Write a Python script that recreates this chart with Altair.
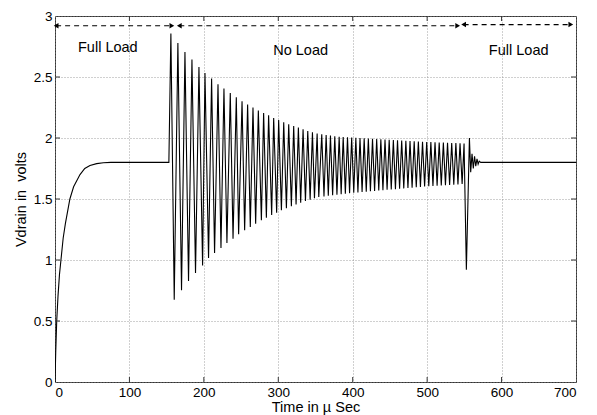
import altair as alt
import pandas as pd

# ---- data ----
# start-up transient (full load)
rise_t = [0, 1, 2.3, 4, 6, 8, 11, 14, 20, 25, 33.6, 40, 47, 56, 65, 75, 153]
rise_v = [0, 0.25, 0.5, 0.7, 0.88, 1.0, 1.18, 1.3, 1.5, 1.6, 1.7, 1.75, 1.775, 1.79, 1.797, 1.8, 1.8]

# no-load oscillation: peaks and troughs
peak_t = [155.7, 165.1, 174.6, 184.0, 193.4, 201.5, 210.4, 219.0, 227.0, 235.5, 243.6, 251.3,
          258.8, 266.0, 273.2, 280.3, 287.0, 293.8, 300.5, 307.3, 314.0, 320.7, 327.0, 333.3,
          339.6, 345.9, 352.2, 358.4, 364.3, 370.1, 375.9, 381.8, 387.2, 393.0, 398.6, 404.2,
          409.8, 415.4, 421.0, 426.6, 432.2, 437.8, 443.4, 449.0, 454.6, 460.2, 465.8, 471.4,
          477.0, 482.6, 488.2, 493.8, 499.4, 505.0, 510.6, 516.2, 521.8, 527.4, 533.0, 538.6,
          544.2, 549.6]
peak_v = [2.856, 2.779, 2.705, 2.643, 2.582, 2.533, 2.487, 2.440, 2.405, 2.369, 2.334, 2.301,
          2.274, 2.249, 2.225, 2.205, 2.186, 2.164, 2.148, 2.129, 2.112, 2.098, 2.085, 2.071,
          2.057, 2.047, 2.036, 2.030, 2.025, 2.020, 2.015, 2.011, 2.008, 2.005, 2.003, 2.001,
          1.999, 1.997, 1.995, 1.993, 1.991, 1.989, 1.987, 1.985, 1.983, 1.981, 1.979, 1.977,
          1.975, 1.973, 1.971, 1.969, 1.968, 1.966, 1.965, 1.963, 1.962, 1.960, 1.959, 1.958,
          1.957, 1.955]
trough_t = [160.2, 170.0, 179.4, 188.8, 198.3, 206.3, 214.4, 223.0, 231.0, 239.2, 246.7, 254.8,
            262.4, 269.6, 277.3, 284.0, 291.1, 297.8, 304.2, 310.9, 317.6, 323.9, 330.1, 336.5,
            342.8, 348.6, 354.4, 361.4, 367.2, 373.0, 378.8, 384.5, 390.1, 395.8, 401.4, 407.0,
            412.6, 418.2, 423.8, 429.4, 435.0, 440.6, 446.2, 451.8, 457.4, 463.0, 468.6, 474.2,
            479.8, 485.4, 491.0, 496.6, 502.2, 507.8, 513.4, 519.0, 524.6, 530.2, 535.8, 541.4,
            547.0]
trough_v = [0.675, 0.752, 0.828, 0.893, 0.954, 1.016, 1.057, 1.098, 1.139, 1.175, 1.211, 1.243,
            1.270, 1.298, 1.325, 1.347, 1.369, 1.388, 1.407, 1.424, 1.440, 1.456, 1.470, 1.484,
            1.495, 1.506, 1.516, 1.521, 1.526, 1.531, 1.536, 1.540, 1.544, 1.548, 1.551, 1.554,
            1.557, 1.560, 1.563, 1.566, 1.569, 1.572, 1.575, 1.578, 1.581, 1.584, 1.587, 1.590,
            1.593, 1.596, 1.599, 1.602, 1.605, 1.607, 1.609, 1.611, 1.613, 1.615, 1.617, 1.620,
            1.623]

# return to full load: dip, spike, ringing, steady state
end_t = [552.7, 556.8, 558.5, 560.3, 562.0, 563.7, 565.3, 567.0, 568.5, 570.0, 572.0, 700.0]
end_v = [0.92, 2.0, 1.72, 1.87, 1.75, 1.85, 1.77, 1.83, 1.785, 1.81, 1.80, 1.80]

# annotations
arrow_start = [1.5, 167, 549]
arrow_end = [157, 541, 693]
arrow_y = [2.92, 2.92, 2.93]
label_text = ["Full Load", "No Load", "Full Load"]
label_t = [71, 330, 623]
label_v = [2.74, 2.715, 2.71]

x_ticks = [0, 100, 200, 300, 400, 500, 600, 700]
y_ticks = [0, 0.5, 1, 1.5, 2, 2.5, 3]

# ---- build tables ----
osc = sorted(list(zip(peak_t, peak_v)) + list(zip(trough_t, trough_v)))
pts = list(zip(rise_t, rise_v)) + osc + list(zip(end_t, end_v))
line_df = pd.DataFrame({"t": [p[0] for p in pts], "v": [p[1] for p in pts],
                        "i": list(range(len(pts)))})
arrow_df = pd.DataFrame({"s": arrow_start, "e": arrow_end, "y": arrow_y})
label_df = pd.DataFrame({"t": label_t, "v": label_v, "txt": label_text})
xt_df = pd.DataFrame({"t": x_ticks[1:-1]})
yt_df = pd.DataFrame({"v": y_ticks[1:-1]})

W, H = 521, 366
FONT = "Liberation Sans"

xs = alt.Scale(domain=[0, 700], nice=False, zero=False)
ys = alt.Scale(domain=[0, 3], nice=False, zero=False)

x_axis = alt.Axis(values=x_ticks, title="Time in µ Sec", grid=True, ticks=False, domain=False,
                  labelFontSize=13.5, labelPadding=3, titleFontSize=14.5, titlePadding=1.5,
                  titleFontWeight="normal", labelFont=FONT, titleFont=FONT,
                  labelColor="black", titleColor="black")
y_axis = alt.Axis(values=y_ticks, title="Vdrain in\u00a0 volts", grid=True, ticks=False,
                  domain=False, format="~g", labelFontSize=13.5, labelPadding=3,
                  titleFontSize=14.5, titlePadding=5, titleFontWeight="normal",
                  labelFont=FONT, titleFont=FONT, labelColor="black", titleColor="black")

line = alt.Chart(line_df).mark_line(color="black", strokeWidth=1.1, clip=True).encode(
    x=alt.X("t:Q", scale=xs, axis=x_axis),
    y=alt.Y("v:Q", scale=ys, axis=y_axis),
    order="i:Q",
)

tk = dict(color="#333", strokeWidth=1)
tick_b = alt.Chart(xt_df).mark_rule(**tk).encode(
    x=alt.X("t:Q", scale=xs), y=alt.value(H), y2=alt.value(H - 5))
tick_t = alt.Chart(xt_df).mark_rule(**tk).encode(
    x=alt.X("t:Q", scale=xs), y=alt.value(0), y2=alt.value(5))
tick_l = alt.Chart(yt_df).mark_rule(**tk).encode(
    y=alt.Y("v:Q", scale=ys), x=alt.value(0), x2=alt.value(5))
tick_r = alt.Chart(yt_df).mark_rule(**tk).encode(
    y=alt.Y("v:Q", scale=ys), x=alt.value(W), x2=alt.value(W - 5))

arrows = alt.Chart(arrow_df).mark_rule(color="black", strokeWidth=1.2, strokeDash=[5, 4]).encode(
    x=alt.X("s:Q", scale=xs), x2="e:Q", y=alt.Y("y:Q", scale=ys))
head_l = alt.Chart(arrow_df).mark_point(shape="triangle-left", filled=True, color="black",
                                        size=30, opacity=1).encode(
    x=alt.X("s:Q", scale=xs), y=alt.Y("y:Q", scale=ys))
head_r = alt.Chart(arrow_df).mark_point(shape="triangle-right", filled=True, color="black",
                                        size=30, opacity=1).encode(
    x=alt.X("e:Q", scale=xs), y=alt.Y("y:Q", scale=ys))

labels = alt.Chart(label_df).mark_text(font=FONT, fontSize=14.5, color="black").encode(
    x=alt.X("t:Q", scale=xs), y=alt.Y("v:Q", scale=ys), text="txt:N")

chart = alt.layer(line, tick_b, tick_t, tick_l, tick_r, arrows, head_l, head_r, labels).properties(
    width=W, height=H,
    autosize=alt.AutoSizeParams(type="none"),
    padding={"left": 47, "top": 8, "right": 13, "bottom": 33},
    background="white",
).configure_view(
    stroke="#333", strokeWidth=1,
).configure_axis(
    gridColor="#888", gridDash=[1, 2], gridWidth=0.8,
)

chart.save("out.html", embed_options={"renderer": "svg", "actions": False})
